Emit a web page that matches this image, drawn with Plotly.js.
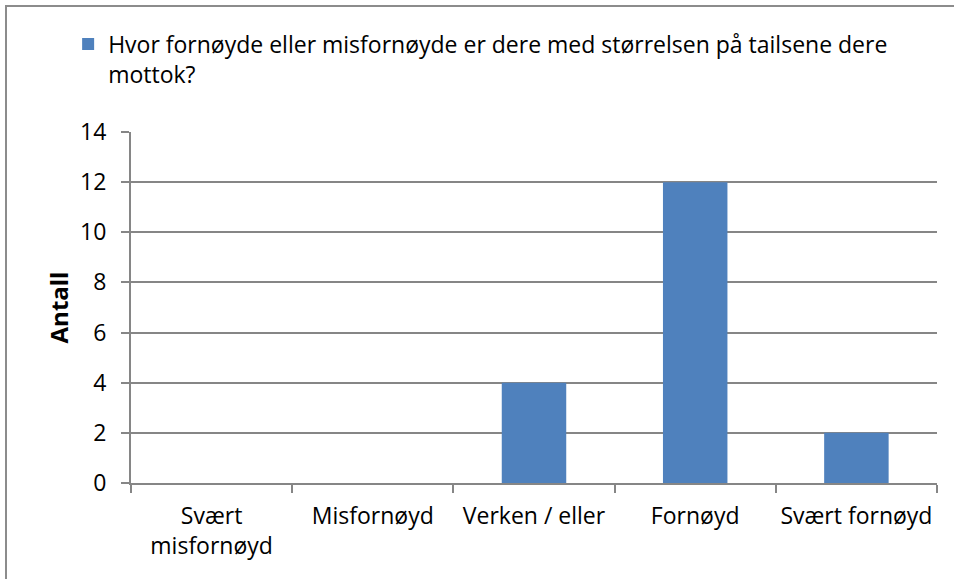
<!DOCTYPE html>
<html>
<head>
<meta charset="utf-8">
<script src="https://cdn.plot.ly/plotly-3.0.1.min.js"></script>
<style>
html,body{margin:0;padding:0;background:#fff;overflow:hidden;}
#frame{position:absolute;left:5px;top:5px;width:960px;height:600px;border-left:2px solid #8c8c8c;border-top:2px solid #8c8c8c;box-sizing:border-box;pointer-events:none;z-index:10;}
#chart{position:absolute;left:0;top:0;width:954px;height:579px;}
</style>
</head>
<body>
<div id="chart"></div>
<div id="frame"></div>
<script>
const categories = ["Svært<br>misfornøyd", "Misfornøyd", "Verken / eller", "Fornøyd", "Svært fornøyd"];
const values = [0, 0, 4, 12, 2];
const seriesName = "Hvor fornøyde eller misfornøyde er dere med størrelsen på tailsene dere<br>mottok?";
const yTicks = [0, 2, 4, 6, 8, 10, 12, 14];

const FONT = "'Open Sans', 'Noto Sans', sans-serif";
const FS = 23;

const trace = {
  type: "bar",
  x: categories,
  y: values,
  name: seriesName,
  marker: {color: "#4F81BD"},
  showlegend: true
};

const layout = {
  width: 954,
  height: 579,
  margin: {l: 131, r: 17, t: 132, b: 96},
  paper_bgcolor: "#ffffff",
  plot_bgcolor: "#ffffff",
  font: {family: FONT, size: FS, color: "#000000"},
  bargap: 0.6,
  showlegend: true,
  legend: {
    x: -0.078, xanchor: "left",
    y: 1.312, yanchor: "top",
    valign: "top",
    font: {family: FONT, size: FS, color: "#000"},
    itemwidth: 30,
    bgcolor: "rgba(0,0,0,0)"
  },
  xaxis: {
    type: "category",
    showgrid: false,
    showline: true,
    linecolor: "#868686",
    linewidth: 2,
    ticks: "outside",
    tickson: "boundaries",
    ticklen: 8,
    tickcolor: "#868686",
    tickwidth: 2,
    tickangle: 0,
    ticklabelstandoff: 11,
    tickfont: {family: FONT, size: FS, color: "#000"},
    zeroline: false
  },
  yaxis: {
    range: [0, 14],
    tickvals: yTicks,
    ticktext: yTicks.map(String),
    showgrid: true,
    gridcolor: "#868686",
    gridwidth: 2,
    showline: true,
    linecolor: "#868686",
    linewidth: 2,
    ticks: "outside",
    ticklen: 8,
    tickcolor: "#868686",
    tickwidth: 2,
    ticklabelstandoff: 10,
    tickfont: {family: FONT, size: FS, color: "#000"},
    zeroline: false,
    title: {text: "<b>Antall</b>", font: {family: FONT, size: 24, color: "#000"}, standoff: 5}
  }
};

Plotly.newPlot("chart", [trace], layout, {displayModeBar: false, staticPlot: true});
</script>
</body>
</html>
